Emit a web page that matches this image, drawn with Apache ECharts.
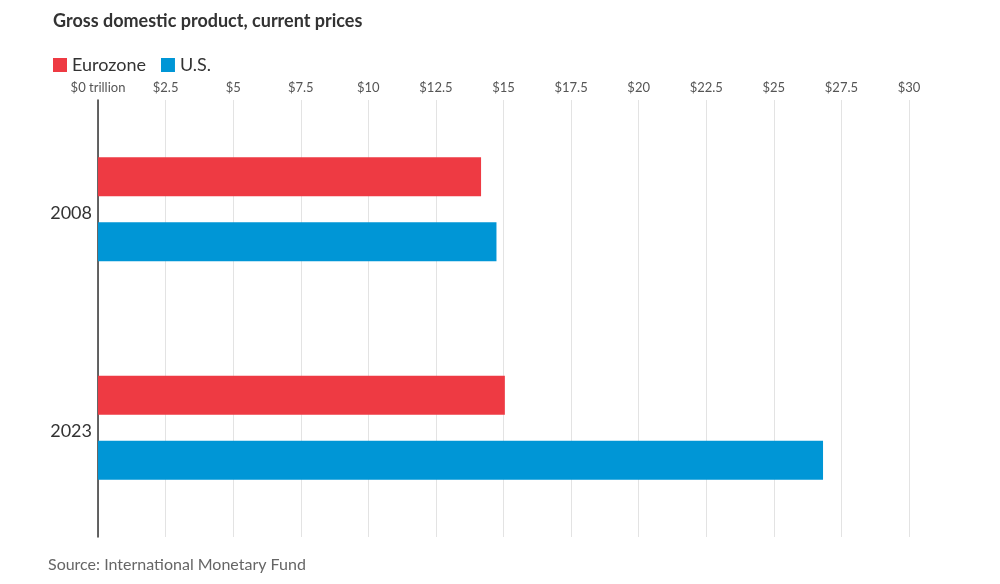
<!DOCTYPE html>
<html>
<head>
<meta charset="utf-8">
<script src="https://cdn.jsdelivr.net/npm/echarts@6/dist/echarts.min.js"></script>
<style>
html,body{margin:0;padding:0;background:#fff;}
#chart{width:1000px;height:584px;}
</style>
</head>
<body>
<div id="chart"></div>
<script>
const categories = ['2008', '2023'];
const eurozone = [14.17, 15.05];
const us = [14.74, 26.82];
const seriesNames = ['Eurozone', 'U.S.'];
const axisMin = 0, axisMax = 30, axisStep = 2.5;

const chart = echarts.init(document.getElementById('chart'), null, {renderer: 'canvas'});
const font = 'Lato, "Open Sans", sans-serif';
chart.setOption({
  animation: false,
  backgroundColor: '#fff',
  title: {
    text: 'Gross domestic product, current prices',
    left: 48, top: 7,
    textStyle: {fontFamily: font, fontSize: 18, fontWeight: 'bold', color: '#333'}
  },
  legend: {
    left: 48, top: 51,
    icon: 'rect', itemWidth: 14, itemHeight: 14, itemGap: 15,
    textStyle: {fontFamily: font, fontSize: 18, color: '#333', padding: [0, 0, 0, 0]},
    data: seriesNames
  },
  graphic: [{
    type: 'text', left: 48, top: 557,
    style: {text: 'Source: International Monetary Fund', fontFamily: font, fontSize: 16, fill: '#666'}
  }],
  grid: {left: 98, right: 91, top: 100, bottom: 47, containLabel: false},
  xAxis: {
    type: 'value', position: 'top', min: axisMin, max: axisMax, interval: axisStep,
    axisLine: {show: false}, axisTick: {show: false},
    splitLine: {show: true, lineStyle: {color: '#e3e3e3', width: 1}},
    axisLabel: {
      fontFamily: font, fontSize: 13, color: '#555', margin: 6,
      formatter: v => v === 0 ? '$0 trillion' : '$' + v
    }
  },
  yAxis: {
    type: 'category', data: categories, inverse: true,
    axisLine: {show: true, lineStyle: {color: '#333', width: 1.5}},
    axisTick: {show: false},
    axisLabel: {
      margin: 6,
      formatter: v => '{y|' + v + '}',
      rich: {y: {fontFamily: font, fontSize: 18, color: '#333', padding: [7, 0, 0, 0]}}
    }
  },
  series: [
    {name: seriesNames[0], type: 'bar', data: eurozone, barWidth: 39, barGap: '67%',
     itemStyle: {color: '#EE3A43'}},
    {name: seriesNames[1], type: 'bar', data: us, barWidth: 39, barGap: '67%',
     itemStyle: {color: '#0096D6'}}
  ]
});
</script>
</body>
</html>
